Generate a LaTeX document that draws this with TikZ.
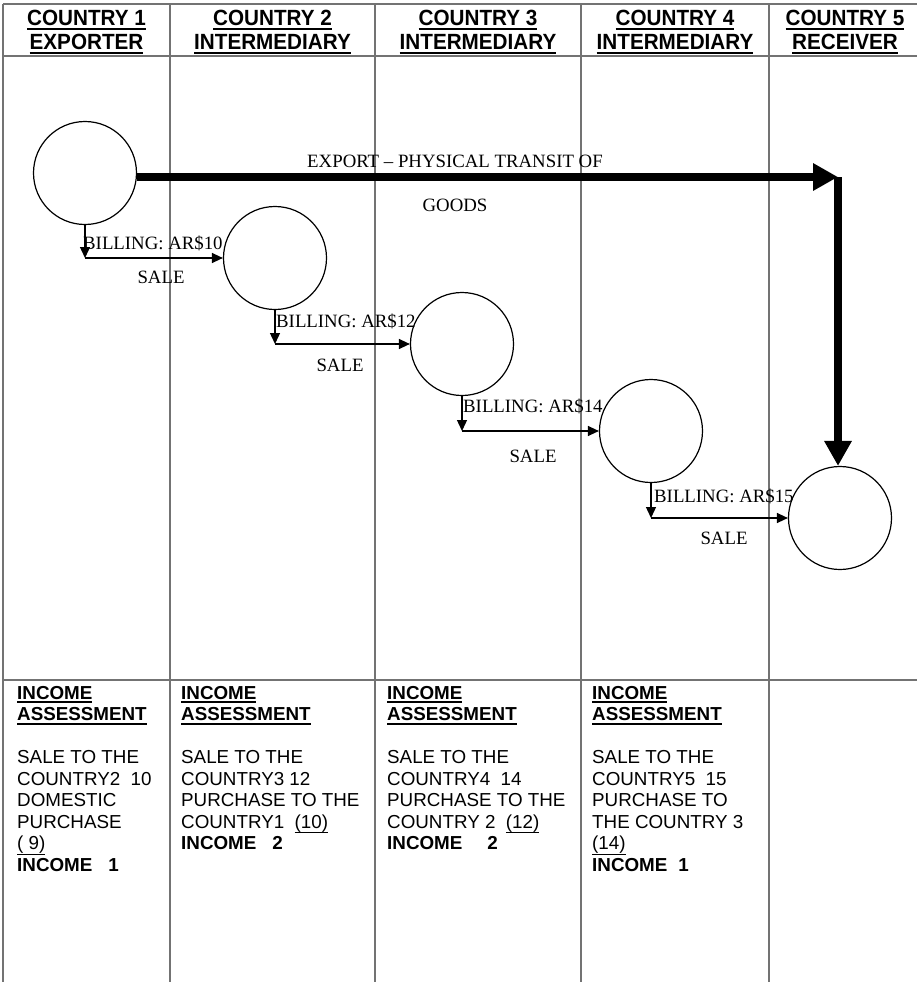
\documentclass[tikz,border=0pt]{standalone}
\usepackage{fontspec}
\setmainfont{Liberation Serif}
\newfontfamily\arialfont{Liberation Sans}
\newfontfamily\headfont[FakeStretch=0.94]{Liberation Sans Bold}
\usetikzlibrary{arrows.meta}

% underline helper: #1 drop below baseline, #2 rule thickness, #3 text
\newlength\ulwidth
\newcommand\ulbar[3]{\settowidth\ulwidth{#3}\rlap{\rule[-#1]{\ulwidth}{#2}}#3}
\newcommand\hdul[1]{\ulbar{4.4pt}{2pt}{#1}}
\newcommand\numul[1]{\ulbar{5.4pt}{1pt}{#1}}

% stacked lines whose baseline is the first line's baseline
\newcommand\centerlines[2]{\vtop{\baselineskip=#1\lineskiplimit=-100pt\lineskip=0pt\halign{\hfil##\hfil\cr#2\crcr}}}
\newcommand\leftlines[2]{\vtop{\baselineskip=#1\lineskiplimit=-100pt\lineskip=0pt\halign{##\hfil\cr#2\crcr}}}

\begin{document}
\begin{tikzpicture}[x=1pt,y=-1pt,
  gridline/.style={draw=black!55, line width=1.2pt},
  party/.style={circle, draw=black, line width=1.2pt, minimum size=103pt, inner sep=0pt},
  goods/.style={draw=black, line width=8.5pt, -{Triangle[length=25pt,width=26pt]}},
  billing/.style={draw=black, line width=1.3pt, -{Triangle[length=11pt,width=10pt]}},
  serifnote/.style={inner sep=0pt, font=\fontsize{18.8}{22}\selectfont},
  billnote/.style={serifnote, anchor=base west},
  salenote/.style={serifnote, anchor=base},
  header/.style={anchor=base, inner sep=0pt, font=\headfont\fontsize{22}{24}\selectfont},
  assess/.style={anchor=base west, inner sep=0pt, font=\arialfont\fontsize{18.8}{21.5}\selectfont}
]
\useasboundingbox (0,0) rectangle (917,982);

% table grid
\draw[gridline] (3,4) -- (917,4);
\draw[gridline] (3,56) -- (917,56);
\draw[gridline] (3,680) -- (917,680);
\foreach \xx in {3,170,375,581,769}
  \draw[gridline] (\xx,4) -- (\xx,982);

% column headings
\node[header] (h1) at (86.5,26) {\centerlines{24pt}{\hdul{COUNTRY 1}\cr\hdul{EXPORTER}}};
\node[header] (h2) at (272.5,26) {\centerlines{24pt}{\hdul{COUNTRY 2}\cr\hdul{INTERMEDIARY}}};
\node[header] (h3) at (478,26) {\centerlines{24pt}{\hdul{COUNTRY 3}\cr\hdul{INTERMEDIARY}}};
\node[header] (h4) at (675,26) {\centerlines{24pt}{\hdul{COUNTRY 4}\cr\hdul{INTERMEDIARY}}};
\node[header] (h5) at (845,26) {\centerlines{24pt}{\hdul{COUNTRY 5}\cr\hdul{RECEIVER}}};

% the five parties
\node[party] (c1) at (85,173) {};
\node[party] (c2) at (275,258) {};
\node[party] (c3) at (462,344) {};
\node[party] (c4) at (651,431) {};
\node[party] (c5) at (840,518) {};

% physical transit of the goods
\node[serifnote, anchor=base] (transit) at (455,167)
  {\centerlines{44pt}{EXPORT – PHYSICAL TRANSIT OF\cr GOODS}};
\coordinate (bend) at (838,177);
\draw[goods] ([yshift=-4pt]c1.east) -- (bend);
\draw[goods] (bend) -- (bend |- c5.north);

% billing chain
\node[billnote] (b1) at (83,249) {BILLING: AR\$10};
\node[billnote] (b2) at (276,327) {BILLING: AR\$12};
\node[billnote] (b3) at (463,412) {BILLING: AR\$14};
\node[billnote] (b4) at (654,502) {BILLING: AR\$15};
\node[salenote] (s1) at (161,283) {SALE};
\node[salenote] (s2) at (340,371) {SALE};
\node[salenote] (s3) at (533,462) {SALE};
\node[salenote] (s4) at (724,544) {SALE};

\draw[billing] (c1.south) -- (c1.south |- c2.west);
\draw[billing] (c1.south |- c2.west) -- (c2.west);
\draw[billing] (c2.south) -- (c2.south |- c3.west);
\draw[billing] (c2.south |- c3.west) -- (c3.west);
\draw[billing] (c3.south) -- (c3.south |- c4.west);
\draw[billing] (c3.south |- c4.west) -- (c4.west);
\draw[billing] (c4.south) -- (c4.south |- c5.west);
\draw[billing] (c4.south |- c5.west) -- (c5.west);

% income assessment per country
\node[assess] (a1) at (17,699) {\leftlines{21.5pt}{%
  \textbf{\hdul{INCOME}}\cr \textbf{\hdul{ASSESSMENT}}\cr \cr
  SALE TO THE\cr COUNTRY2\ \ 10\cr DOMESTIC\cr PURCHASE\cr \numul{( 9)}\cr
  \textbf{INCOME\hspace{16pt}1}\cr}};
\node[assess] (a2) at (181,699) {\leftlines{21.5pt}{%
  \textbf{\hdul{INCOME}}\cr \textbf{\hdul{ASSESSMENT}}\cr \cr
  SALE TO THE\cr COUNTRY3 12\cr PURCHASE TO THE\cr COUNTRY1\ \ \numul{(10)}\cr
  \textbf{INCOME\hspace{16pt}2}\cr}};
\node[assess] (a3) at (387,699) {\leftlines{21.5pt}{%
  \textbf{\hdul{INCOME}}\cr \textbf{\hdul{ASSESSMENT}}\cr \cr
  SALE TO THE\cr COUNTRY4\ \ 14\cr PURCHASE TO THE\cr COUNTRY 2\ \ \numul{(12)}\cr
  \textbf{INCOME\hspace{25pt}2}\cr}};
\node[assess] (a4) at (592,699) {\leftlines{21.5pt}{%
  \textbf{\hdul{INCOME}}\cr \textbf{\hdul{ASSESSMENT}}\cr \cr
  SALE TO THE\cr COUNTRY5\ \ 15\cr PURCHASE TO\cr THE COUNTRY 3\cr \numul{(14)}\cr
  \textbf{INCOME\hspace{11pt}1}\cr}};
\end{tikzpicture}
\end{document}
